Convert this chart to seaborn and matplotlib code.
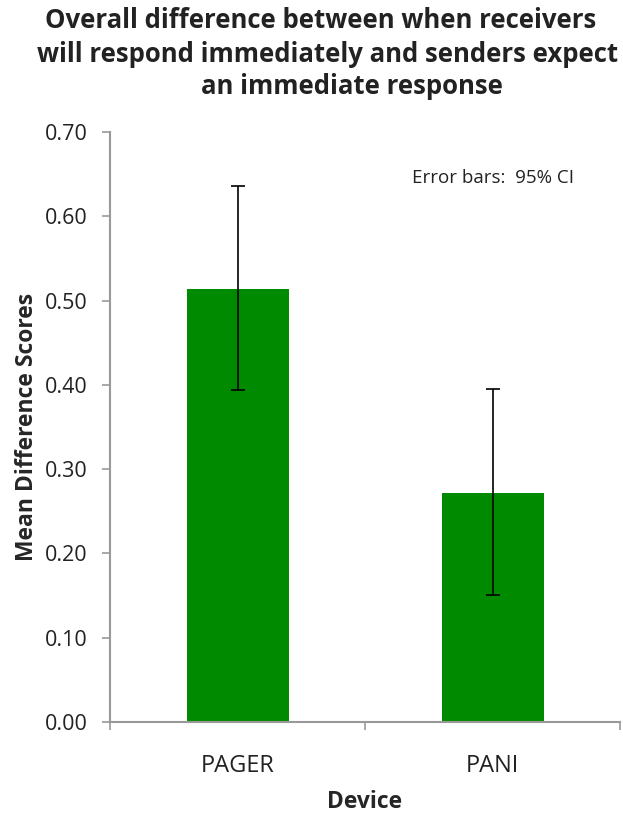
import matplotlib
matplotlib.use("Agg")
import matplotlib.pyplot as plt
import seaborn as sns
import numpy as np
import pandas as pd

devices = ["PAGER", "PANI"]
means = [0.514, 0.272]
ci_low = [0.394, 0.151]
ci_high = [0.636, 0.395]
yticks = [0.0, 0.1, 0.2, 0.3, 0.4, 0.5, 0.6, 0.7]

sns.set_theme(style="white")
plt.rcParams['font.family'] = ['Open Sans', 'DejaVu Sans']

fig = plt.figure(figsize=(6.23, 8.16), dpi=100)
ax = fig.add_axes([110/623, 1-722/816, 510/623, 590/816])

df = pd.DataFrame({"Device": devices, "Mean": means})
sns.barplot(data=df, x="Device", y="Mean", color="#008a00", width=0.4,
            errorbar=None, ax=ax, saturation=1)
for p in ax.patches:
    p.set_edgecolor("none")

m = np.array(means)
yerr = np.vstack([m - np.array(ci_low), np.array(ci_high) - m])
ax.errorbar(np.arange(len(devices)), m, yerr=yerr, fmt="none", ecolor="black",
            elinewidth=1.2, capsize=5, capthick=1.2)

ax.set_xlim(-0.5, 1.5)
ax.set_ylim(0, 0.7)
ax.set_yticks(yticks)
ax.set_yticklabels([f"{v:.2f}" for v in yticks], fontsize=15.5, color="#222222")
ax.set_xticks([-0.5, 0.5, 1.5], minor=False)
ax.set_xticklabels(["", "", ""])
ax.set_xticks([0, 1], minor=True)
ax.set_xticklabels(devices, minor=True, fontsize=17, color="#222222")
ax.tick_params(axis="x", which="minor", length=0, pad=23)
ax.tick_params(axis="x", which="major", length=6, width=1.2, color="#999999", direction="out", bottom=True)
ax.tick_params(axis="y", length=6, width=1.2, color="#999999", direction="out", left=True, pad=10)

for s in ["top", "right"]:
    ax.spines[s].set_visible(False)
for s in ["left", "bottom"]:
    ax.spines[s].set_color("#999999")
    ax.spines[s].set_linewidth(1.5)

ax.set_xlabel("Device", fontsize=16.5, fontweight="bold")
ax.set_ylabel("Mean Difference Scores", fontsize=16.5, fontweight="bold")
ax.xaxis.set_label_coords(0.5, (722 - 802) / 590)
ax.xaxis.label.set(va="center", ha="center")
ax.yaxis.set_label_coords((27 - 110) / 510, 0.5)
ax.yaxis.label.set(va="center", ha="center", rotation_mode="default")

ax.text(1.0, 0.645, "Error bars:  95% CI", transform=ax.transData,
        fontsize=13.5, ha="center", va="center", color="#222222")

fig.text(321/623, 1-21/816, "Overall difference between when receivers", ha="center", va="center",
         fontsize=18.5, fontweight="bold", color="#222222")
fig.text(328/623, 1-54/816, "will respond immediately and senders expect", ha="center", va="center",
         fontsize=18.5, fontweight="bold", color="#222222")
fig.text(352/623, 1-87/816, "an immediate response", ha="center", va="center",
         fontsize=18.5, fontweight="bold", color="#222222")

fig.savefig("out.png", dpi=100)
